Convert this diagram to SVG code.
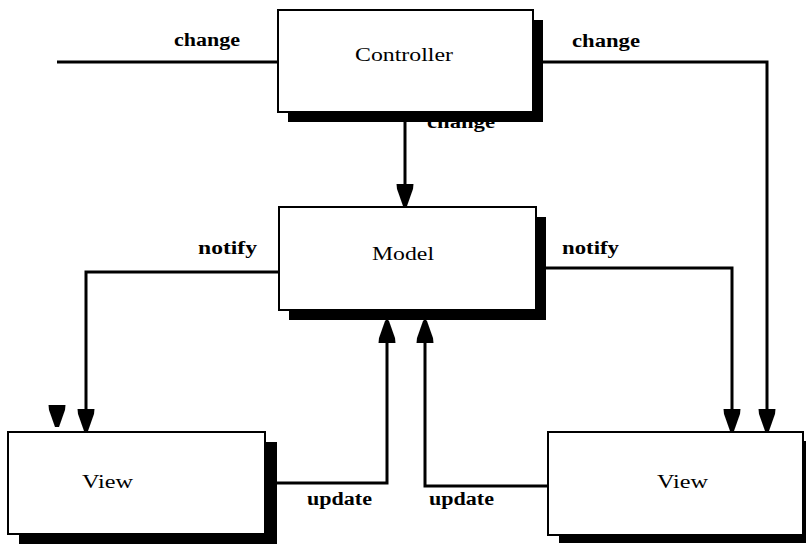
<svg xmlns="http://www.w3.org/2000/svg" width="806" height="544" viewBox="0 0 806 544">
  <style>
    .wire { fill: none; stroke: #000; stroke-width: 3; }
    .box { fill: #fff; stroke: #000; stroke-width: 2; }
    .shadow { fill: #000; stroke: none; }
    .name { font-family: "Liberation Serif", "Times New Roman", serif; font-size: 18px; fill: #000; }
    .tag { font-family: "Liberation Serif", "Times New Roman", serif; font-size: 18px; font-weight: bold; fill: #000; }
  </style>
  <defs>
    <!-- filled arrowhead tapering to a blunt tip at the path end -->
    <marker id="head" markerUnits="userSpaceOnUse" orient="auto" overflow="visible"
            markerWidth="1" markerHeight="1" refX="0" refY="0">
      <path d="M-23,-8.5 L-18,-8 L-1,-2 L-1,2 L-18,8 L-23,8.5 Z" fill="#000"/>
    </marker>
    <path id="head-down" d="M-8.5,-23 L8.5,-23 L8,-18 L2,-1 L-2,-1 L-8,-18 Z" fill="#000"/>
  </defs>

  <rect width="806" height="544" fill="#fff"/>

  <g id="connectors">
    <!-- controller change, left branch -->
    <path class="wire" d="M57,62 H278"/>
    <use href="#head-down" x="57" y="428"/>
    <text class="tag" x="174" y="46" textLength="66" lengthAdjust="spacingAndGlyphs">change</text>

    <!-- controller change, right branch down to right view -->
    <path class="wire" d="M543,62 H767 V432" marker-end="url(#head)"/>
    <text class="tag" x="572" y="47" textLength="68" lengthAdjust="spacingAndGlyphs">change</text>

    <!-- controller change to model -->
    <path class="wire" d="M405,122 V207" marker-end="url(#head)"/>
    <text class="tag" x="427" y="128" textLength="68" lengthAdjust="spacingAndGlyphs">change</text>

    <!-- model notify to left view -->
    <path class="wire" d="M279,272 H86 V432" marker-end="url(#head)"/>
    <text class="tag" x="198" y="254" textLength="59" lengthAdjust="spacingAndGlyphs">notify</text>

    <!-- model notify to right view -->
    <path class="wire" d="M545,268 H732 V432" marker-end="url(#head)"/>
    <text class="tag" x="562" y="254" textLength="57" lengthAdjust="spacingAndGlyphs">notify</text>

    <!-- left view update to model -->
    <path class="wire" d="M265,483 H387 V320" marker-end="url(#head)"/>
    <text class="tag" x="307" y="505" textLength="65" lengthAdjust="spacingAndGlyphs">update</text>

    <!-- right view update to model -->
    <path class="wire" d="M548,486 H425 V320" marker-end="url(#head)"/>
    <text class="tag" x="429" y="505" textLength="65" lengthAdjust="spacingAndGlyphs">update</text>
  </g>

  <g id="controller">
    <rect class="shadow" x="288" y="20" width="255" height="102"/>
    <rect class="box" x="278" y="10" width="255" height="102"/>
    <text class="name" x="355" y="61" textLength="98" lengthAdjust="spacingAndGlyphs">Controller</text>
  </g>

  <g id="model">
    <rect class="shadow" x="289" y="217" width="257" height="103"/>
    <rect class="box" x="279" y="207" width="257" height="103"/>
    <text class="name" x="372" y="260" textLength="62" lengthAdjust="spacingAndGlyphs">Model</text>
  </g>

  <g id="view-left">
    <rect class="shadow" x="19" y="442" width="258" height="102"/>
    <rect class="box" x="8" y="432" width="257" height="102"/>
    <text class="name" x="82" y="488" textLength="51" lengthAdjust="spacingAndGlyphs">View</text>
  </g>

  <g id="view-right">
    <rect class="shadow" x="559" y="441" width="258" height="102"/>
    <rect class="box" x="548" y="432" width="255" height="103"/>
    <text class="name" x="657" y="488" textLength="51" lengthAdjust="spacingAndGlyphs">View</text>
  </g>
</svg>
